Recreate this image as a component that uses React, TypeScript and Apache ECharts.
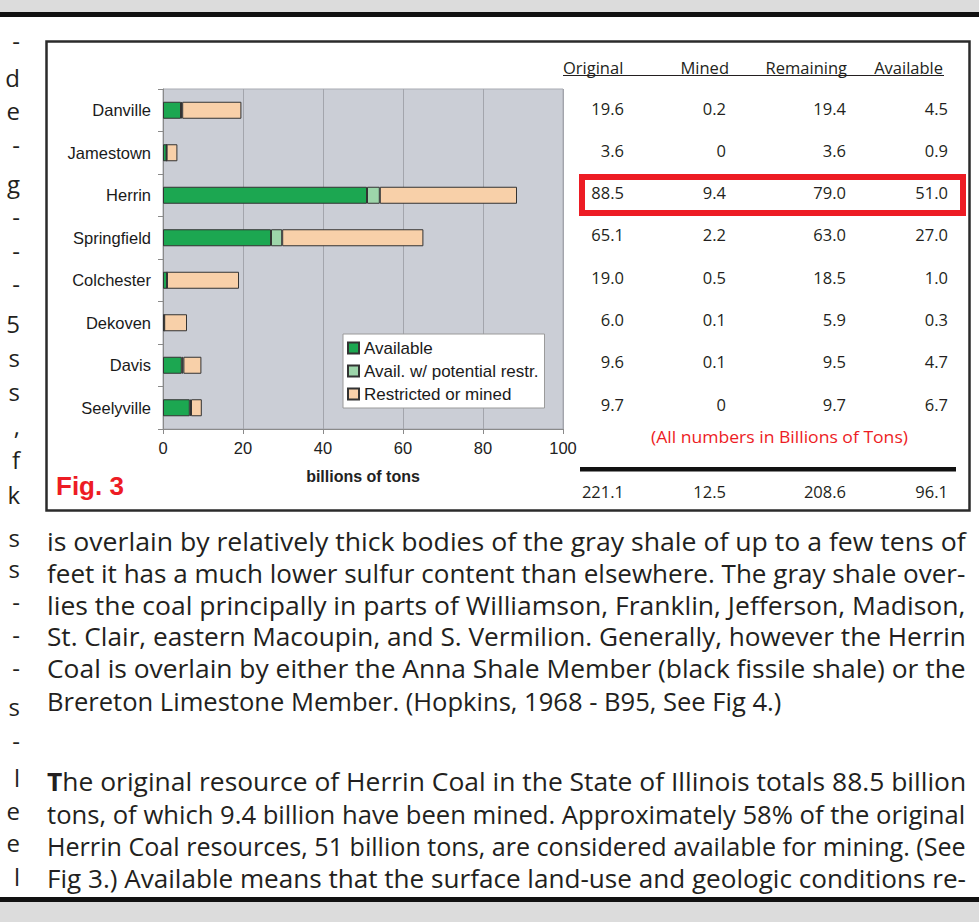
import React, { useEffect, useRef } from 'react';
import * as echarts from 'echarts';

// ---------------- data ----------------
const categories = ['Danville', 'Jamestown', 'Herrin', 'Springfield', 'Colchester', 'Dekoven', 'Davis', 'Seelyville'];
const originalVals = [19.6, 3.6, 88.5, 65.1, 19.0, 6.0, 9.6, 9.7];
const minedVals = [0.2, 0, 9.4, 2.2, 0.5, 0.1, 0.1, 0];
const remainingVals = [19.4, 3.6, 79.0, 63.0, 18.5, 5.9, 9.5, 9.7];
const availableVals = [4.5, 0.9, 51.0, 27.0, 1.0, 0.3, 4.7, 6.7];
const potentialVals = [0.3, 0, 3.2, 2.8, 0, 0, 0.4, 0.3];
const restrictedVals = [14.8, 2.7, 34.3, 35.3, 18.0, 5.7, 4.5, 2.7];
const totalsVals = [221.1, 12.5, 208.6, 96.1];
const tableHeaders = ['Original', 'Mined', 'Remaining', 'Available'];
const seriesNames = ['Available', 'Avail. w/ potential restr.', 'Restricted or mined'];
const axisName = 'billions of tons';
const figLabel = 'Fig. 3';
const noteText = '(All numbers in Billions of Tons)';

const para1 = [
  'is overlain by relatively thick bodies of the gray shale of up to a few tens of',
  'feet it has a much lower sulfur content than elsewhere. The gray shale over-',
  'lies the coal principally in parts of Williamson, Franklin, Jefferson, Madison,',
  'St. Clair, eastern Macoupin, and S. Vermilion. Generally, however the Herrin',
  'Coal is overlain by either the Anna Shale Member (black fissile shale) or the',
  'Brereton Limestone Member. (Hopkins, 1968 - B95, See Fig 4.)',
];
const para2Lead = 'T';
const para2 = [
  'he original resource of Herrin Coal in the State of Illinois totals 88.5 billion',
  'tons, of which 9.4 billion have been mined. Approximately 58% of the original',
  'Herrin Coal resources, 51 billion tons, are considered available for mining. (See',
  'Fig 3.) Available means that the surface land-use and geologic conditions re-',
];
const marginTop = ['-', 'd', 'e', '-', 'g', '-', '-', '-', '5', 's', 's', ',', 'f', 'k'];
const marginBottom = ['s', 's', '-', '-', '-', 's', '-', 'l', 'e', 'e', 'l'];

// ---------------- layout / style ----------------
const FONT_CHART = '"Liberation Sans", Arial, sans-serif';
const FONT_BODY = '"Open Sans", sans-serif';
const TEXT_DARK = '#231f20';
const RED = '#ed1c24';
const COLORS = ['#1ca751', '#9dd5aa', '#f8d0a9'];

const para1Y = [541, 573, 605, 637, 669, 701];
const para1Right = [966, 966, 966, 966, 966, 782];
const para2Y = [782, 814, 846, 878];
const para2Right = [966, 966, 966, 966];
const marginTopY = [40, 77, 110, 144, 183, 216, 250, 283, 323, 357, 391, 425, 459, 494];
const marginBottomY = [537, 568, 601, 634, 667, 706, 740, 777, 810, 842, 876];

const colRight = [624, 726, 846, 948];
const headerRight = [628, 729, 847, 943];
const rowY0 = 108;
const rowStep = 42.3;

let measureCtx: CanvasRenderingContext2D | null = null;
function measure(text: string, font: string): number {
  if (!measureCtx) measureCtx = document.createElement('canvas').getContext('2d');
  measureCtx!.font = font;
  return measureCtx!.measureText(text).width;
}

function fmt(v: number): string {
  return v === 0 ? '0' : v.toFixed(1);
}

function txt(text: string, x: number, y: number, opts: any = {}) {
  const align = opts.align || 'left';
  return {
    type: 'text',
    x,
    y,
    scaleX: opts.scaleX || 1,
    silent: true,
    z: 100,
    style: {
      text,
      fill: opts.fill || TEXT_DARK,
      fontSize: opts.fontSize || 16,
      fontFamily: opts.fontFamily || FONT_BODY,
      fontWeight: opts.fontWeight || 'normal',
      textAlign: align,
      align,
      textVerticalAlign: 'middle',
      verticalAlign: 'middle',
      rich: opts.rich,
    },
  };
}

function buildGraphics() {
  const els: any[] = [];
  // page bands
  els.push({ type: 'rect', silent: true, shape: { x: 0, y: 0, width: 979, height: 12 }, style: { fill: '#dcdcdc' } });
  els.push({ type: 'rect', silent: true, shape: { x: 0, y: 12, width: 979, height: 5 }, style: { fill: '#111' } });
  els.push({ type: 'rect', silent: true, shape: { x: 0, y: 897, width: 979, height: 5 }, style: { fill: '#111' } });
  els.push({ type: 'rect', silent: true, shape: { x: 0, y: 902, width: 979, height: 20 }, style: { fill: '#dcdcdc' } });
  // figure frame
  els.push({
    type: 'rect', silent: true,
    shape: { x: 46.5, y: 41.5, width: 923, height: 469 },
    style: { fill: 'transparent', stroke: '#2b2b2b', lineWidth: 2.5 },
  });

  // table headers
  tableHeaders.forEach((h, i) => {
    if (i === 0) els.push(txt(h, 563, 67, { fontSize: 16.5 }));
    else els.push(txt(h, headerRight[i], 67, { fontSize: 16.5, align: 'right' }));
  });
  els.push({ type: 'line', silent: true, shape: { x1: 563, y1: 75.5, x2: 944, y2: 75.5 }, style: { stroke: TEXT_DARK, lineWidth: 1 } });

  // table rows
  const cols = [originalVals, minedVals, remainingVals, availableVals];
  categories.forEach((_, r) => {
    const y = rowY0 + rowStep * r;
    cols.forEach((col, c) => {
      els.push(txt(fmt(col[r]), colRight[c], y, { fontSize: 16.5, align: 'right' }));
    });
  });

  // red highlight around Herrin row
  els.push({
    type: 'rect', silent: true,
    shape: { x: 582, y: 177, width: 381, height: 36 },
    style: { fill: 'transparent', stroke: RED, lineWidth: 6 },
  });

  // note
  const noteFont = `16px ${FONT_BODY}`;
  const noteScale = 257 / measure(noteText, noteFont);
  els.push(txt(noteText, 651, 437, { fontSize: 16, fill: RED, scaleX: noteScale }));

  // thick rule and totals
  els.push({ type: 'rect', silent: true, shape: { x: 580, y: 467, width: 376, height: 4.5 }, style: { fill: '#111' } });
  totalsVals.forEach((v, c) => {
    els.push(txt(fmt(v), colRight[c], 491, { fontSize: 16.5, align: 'right' }));
  });

  // Fig. 3
  els.push(txt(figLabel, 56, 486, { fontSize: 26, fontWeight: 'bold', fill: RED, fontFamily: FONT_CHART }));

  // body text
  const bodySize = 25;
  const bodyFont = `${bodySize}px ${FONT_BODY}`;
  para1.forEach((line, i) => {
    const w = measure(line, bodyFont);
    els.push(txt(line, 47, para1Y[i], { fontSize: bodySize, scaleX: (para1Right[i] - 47) / w }));
  });
  para2.forEach((line, i) => {
    let w = measure(line, bodyFont);
    let text = line;
    let rich: any = undefined;
    if (i === 0) {
      w += measure(para2Lead, `bold ${bodySize}px ${FONT_BODY}`);
      text = `{b|${para2Lead}}{n|${line}}`;
      rich = {
        b: { fontWeight: 'bold', fontSize: bodySize, fontFamily: FONT_BODY, fill: TEXT_DARK },
        n: { fontWeight: 'normal', fontSize: bodySize, fontFamily: FONT_BODY, fill: TEXT_DARK },
      };
    }
    els.push(txt(text, 47, para2Y[i], { fontSize: bodySize, scaleX: (para2Right[i] - 47) / w, rich }));
  });

  // margin fragments from the neighbouring column
  marginTop.forEach((ch, i) => els.push(txt(ch, 20, marginTopY[i], { fontSize: 24, align: 'right' })));
  marginBottom.forEach((ch, i) => els.push(txt(ch, 20, marginBottomY[i], { fontSize: 24, align: 'right' })));

  return els;
}

function buildOption(): any {
  const seriesData = [availableVals, potentialVals, restrictedVals];
  return {
    animation: false,
    backgroundColor: '#ffffff',
    grid: {
      left: 163, top: 89, width: 400, height: 340,
      show: true, backgroundColor: '#cbced6', borderColor: '#a9abb2', borderWidth: 1,
    },
    xAxis: {
      type: 'value', min: 0, max: 100, interval: 20,
      axisLine: { show: true, lineStyle: { color: '#8a8a8a', width: 1 } },
      axisTick: { show: true, length: 5, lineStyle: { color: '#8a8a8a' } },
      splitLine: { show: true, lineStyle: { color: '#a3a5ac', width: 1 } },
      axisLabel: { fontSize: 16.5, color: '#222', fontFamily: FONT_CHART, margin: 10 },
      name: axisName, nameLocation: 'middle', nameGap: 39,
      nameTextStyle: { fontSize: 16, fontWeight: 'bold', color: '#222', fontFamily: FONT_CHART },
    },
    yAxis: {
      type: 'category', data: categories, inverse: true,
      axisLine: { show: true, lineStyle: { color: '#8a8a8a', width: 1 } },
      axisTick: { show: true, length: 5, lineStyle: { color: '#8a8a8a' } },
      splitLine: { show: false },
      axisLabel: { fontSize: 16.5, color: '#1a1a1a', fontFamily: FONT_CHART, margin: 12 },
    },
    legend: {
      orient: 'vertical', left: 343, top: 334,
      backgroundColor: '#ffffff', borderColor: '#9a9a9a', borderWidth: 1,
      padding: [4, 6, 4, 4], itemGap: 3, itemWidth: 11, itemHeight: 11,
      icon: 'rect', selectedMode: false,
      textStyle: { fontSize: 17, color: '#1a1a1a', fontFamily: FONT_CHART, lineHeight: 20 },
      data: seriesNames,
    },
    series: seriesNames.map((name, i) => ({
      type: 'bar', name, stack: 'total', data: seriesData[i], barWidth: 17,
      itemStyle: { color: COLORS[i], borderColor: '#333', borderWidth: 1 },
      emphasis: { disabled: true },
    })),
    graphic: { elements: buildGraphics() },
  };
}

export default function App() {
  const ref = useRef<HTMLDivElement>(null);
  useEffect(() => {
    document.body.style.margin = '0';
    const chart = echarts.init(ref.current!, null, { renderer: 'svg' });
    chart.setOption(buildOption());
    return () => chart.dispose();
  }, []);
  return <div ref={ref} style={{ position: 'absolute', left: 0, top: 0, width: 979, height: 922 }} />;
}
